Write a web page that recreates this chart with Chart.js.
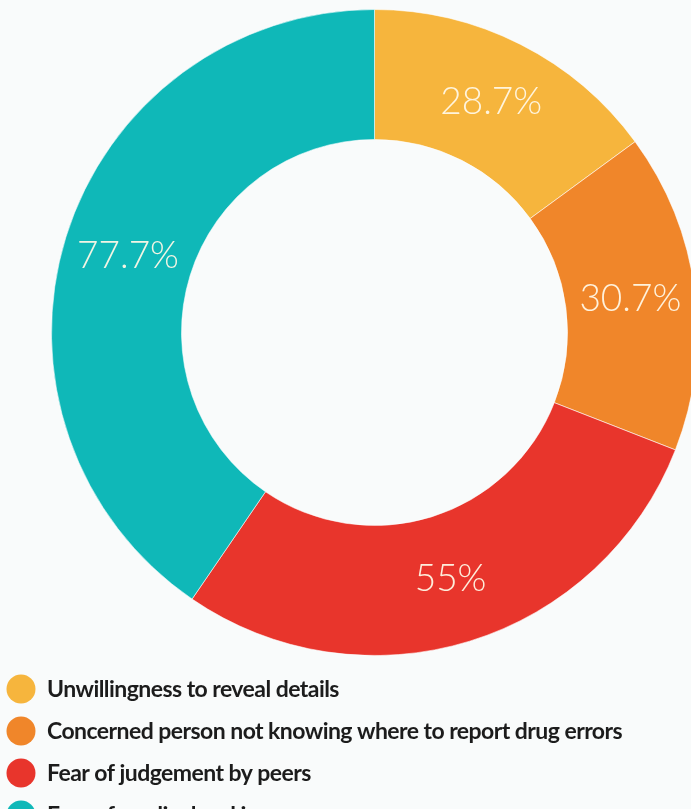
<!DOCTYPE html>
<html>
<head>
<meta charset="utf-8">
<script src="https://cdn.jsdelivr.net/npm/chart.js@4/dist/chart.umd.min.js"></script>
<style>
  html, body { margin: 0; padding: 0; background: #f9fbfb; overflow: hidden; }
  #wrap { position: relative; width: 691px; height: 809px; overflow: hidden; }
  canvas { position: absolute; left: 0; top: 0; }
</style>
</head>
<body>
<div id="wrap"><canvas id="c" width="760" height="809"></canvas></div>
<script>
// Reasons cited for not reporting drug errors (% of respondents)
const categories = [
  'Unwillingness to reveal details',
  'Concerned person not knowing where to report drug errors',
  'Fear of judgement by peers',
  'Fear of medicolegal issues'
];
const values = [28.7, 30.7, 55, 77.7];
const colors = ['#f6b53d', '#f0862a', '#e8352c', '#0fb8b8'];

// Percentage text drawn at the centroid of each ring segment
const sliceLabels = {
  id: 'sliceLabels',
  afterDatasetsDraw(chart) {
    const ctx = chart.ctx;
    const meta = chart.getDatasetMeta(0);
    ctx.save();
    ctx.font = '300 37px Lato, "Open Sans", sans-serif';
    ctx.fillStyle = 'rgba(255,248,230,0.95)';
    ctx.textAlign = 'center';
    ctx.textBaseline = 'middle';
    meta.data.forEach((arc, i) => {
      const p = arc.tooltipPosition();
      ctx.fillText(values[i] + '%', p.x, p.y);
    });
    ctx.restore();
  }
};

// Stacked legend below the ring: one row per category
const stackedLegend = {
  id: 'stackedLegend',
  afterDraw(chart) {
    const ctx = chart.ctx;
    ctx.save();
    ctx.font = 'bold 23px Lato, sans-serif';
    ctx.letterSpacing = '-0.55px';
    ctx.textBaseline = 'middle';
    ctx.textAlign = 'left';
    categories.forEach((label, i) => {
      const y = 689 + i * 42;
      ctx.beginPath();
      ctx.arc(21, y, 14.5, 0, Math.PI * 2);
      ctx.fillStyle = colors[i];
      ctx.fill();
      ctx.fillStyle = '#1c1c1c';
      ctx.fillText(label, 47, y + 1);
    });
    ctx.restore();
  }
};

new Chart(document.getElementById('c'), {
  type: 'doughnut',
  data: {
    labels: categories,
    datasets: [{
      data: values,
      backgroundColor: colors,
      borderColor: 'rgba(255,255,255,0.55)',
      borderWidth: 1
    }]
  },
  options: {
    responsive: false,
    devicePixelRatio: 1,
    animation: false,
    radius: 323,
    cutout: 193,
    layout: { padding: { left: 51, right: 62, top: 9, bottom: 153 } },
    plugins: {
      legend: { display: false },
      tooltip: { enabled: false }
    }
  },
  plugins: [sliceLabels, stackedLegend]
});
</script>
</body>
</html>
